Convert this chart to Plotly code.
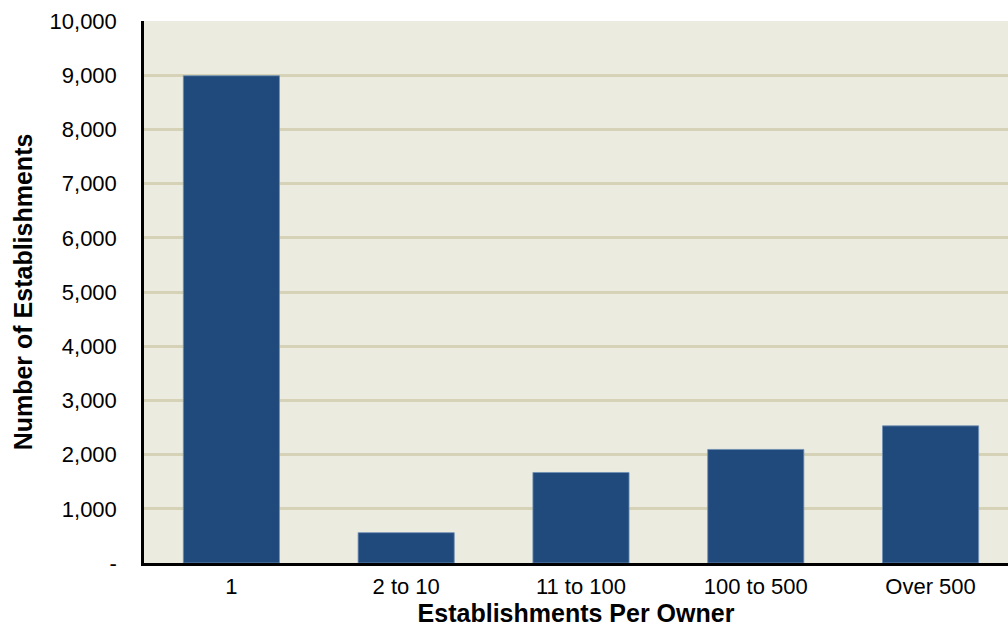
import plotly.graph_objects as go

categories = ["1", "2 to 10", "11 to 100", "100 to 500", "Over 500"]
values = [8990, 560, 1670, 2095, 2530]
y_tick_vals = [0, 1000, 2000, 3000, 4000, 5000, 6000, 7000, 8000, 9000, 10000]
y_tick_text = ["-", "1,000", "2,000", "3,000", "4,000", "5,000", "6,000",
               "7,000", "8,000", "9,000", "10,000"]

BAR = "#214a7c"
BG = "#ebebdf"
GRID = "#d5d2b8"
FONT = "Liberation Sans, Arial, Helvetica, sans-serif"

fig = go.Figure()
fig.add_trace(go.Bar(
    x=list(range(len(categories))), y=values, width=0.55,
    marker=dict(color=BAR, line=dict(color="#6f8fb5", width=0.8)),
))

fig.update_layout(
    width=1008, height=631,
    margin=dict(l=144, r=0, t=21, b=68),
    paper_bgcolor="white", plot_bgcolor=BG,
    font=dict(family=FONT, size=22, color="black"),
    showlegend=False, bargap=0.45,
)
fig.update_xaxes(
    range=[-0.5, 4.443],
    tickvals=list(range(len(categories))), ticktext=categories,
    showgrid=False, zeroline=False,
    showline=True, linecolor="black", linewidth=2.5,
    ticks="outside", ticklen=2, tickcolor="rgba(0,0,0,0)",
    tickfont=dict(size=22),
    title=dict(text="<b>Establishments Per Owner</b>", font=dict(size=25), standoff=0),
)
fig.update_yaxes(
    range=[0, 10000],
    tickvals=y_tick_vals, ticktext=y_tick_text,
    showgrid=True, gridcolor=GRID, gridwidth=2.5,
    zeroline=False,
    showline=True, linecolor="black", linewidth=2.5,
    ticks="outside", ticklen=20, tickcolor="rgba(0,0,0,0)",
    tickfont=dict(size=22),
    title=dict(text="<b>Number of Establishments</b>", font=dict(size=25), standoff=10),
)

fig.write_html("out.html")
